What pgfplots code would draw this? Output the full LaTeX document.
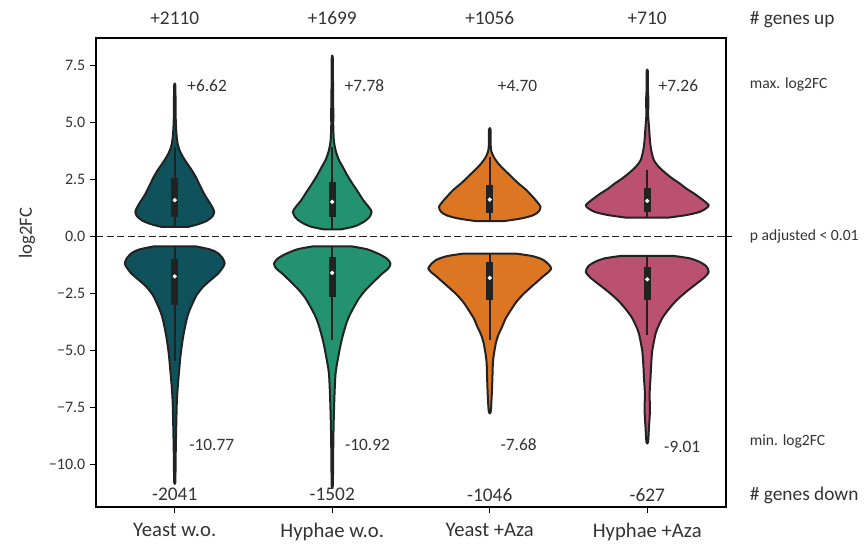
\documentclass[border=0pt]{standalone}
\usepackage{pgfplots}
\pgfplotsset{compat=1.18}
\usepackage{pgfplotstable}
\usepackage{fontspec}
\setmainfont{Carlito}

\definecolor{cYW}{HTML}{0F525C}
\definecolor{cHW}{HTML}{23936F}
\definecolor{cYA}{HTML}{DC7623}
\definecolor{cHA}{HTML}{BA5170}
\definecolor{edge}{HTML}{222222}
\definecolor{txt}{HTML}{333333}

% violin outlines: log2FC value (y) and signed half width (w, in category units),
% right side first, then back along the left side
\pgfplotstableread{
y w
0.43 0.085
0.55 0.150
0.70 0.205
0.90 0.240
1.10 0.250
1.40 0.230
1.80 0.193
2.20 0.163
2.60 0.135
2.90 0.110
3.20 0.080
3.50 0.052
3.80 0.030
4.10 0.018
4.50 0.011
5.00 0.007
5.60 0.005
6.62 0.004
6.62 -0.004
5.60 -0.005
5.00 -0.007
4.50 -0.011
4.10 -0.018
3.80 -0.030
3.50 -0.052
3.20 -0.080
2.90 -0.110
2.60 -0.135
2.20 -0.163
1.80 -0.193
1.40 -0.230
1.10 -0.250
0.90 -0.240
0.70 -0.205
0.55 -0.150
0.43 -0.085
}\yeastUp
\pgfplotstableread{
y w
-0.42 0.130
-0.55 0.220
-0.70 0.270
-0.95 0.305
-1.18 0.317
-1.40 0.300
-1.62 0.275
-1.90 0.228
-2.20 0.180
-2.55 0.140
-2.94 0.112
-3.30 0.090
-3.67 0.074
-4.40 0.053
-5.13 0.038
-5.87 0.028
-6.60 0.019
-7.30 0.013
-8.80 0.008
-10.00 0.005
-10.77 0.004
-10.77 -0.004
-10.00 -0.005
-8.80 -0.008
-7.30 -0.013
-6.60 -0.019
-5.87 -0.028
-5.13 -0.038
-4.40 -0.053
-3.67 -0.074
-3.30 -0.090
-2.94 -0.112
-2.55 -0.140
-2.20 -0.180
-1.90 -0.228
-1.62 -0.275
-1.40 -0.300
-1.18 -0.317
-0.95 -0.305
-0.70 -0.270
-0.55 -0.220
-0.42 -0.130
}\yeastDown
\pgfplotstableread{
y w
0.32 0.053
0.45 0.140
0.65 0.200
0.85 0.235
1.09 0.250
1.30 0.232
1.60 0.197
2.00 0.160
2.34 0.127
2.70 0.095
3.07 0.066
3.40 0.040
3.80 0.021
4.24 0.010
5.00 0.006
5.30 0.008
6.00 0.005
7.78 0.004
7.78 -0.004
6.00 -0.005
5.30 -0.008
5.00 -0.006
4.24 -0.010
3.80 -0.021
3.40 -0.040
3.07 -0.066
2.70 -0.095
2.34 -0.127
2.00 -0.160
1.60 -0.197
1.30 -0.232
1.09 -0.250
0.85 -0.235
0.65 -0.200
0.45 -0.140
0.32 -0.053
}\hyphaeUp
\pgfplotstableread{
y w
-0.42 0.120
-0.55 0.220
-0.74 0.290
-0.95 0.345
-1.18 0.370
-1.40 0.355
-1.62 0.317
-2.00 0.260
-2.35 0.210
-2.70 0.170
-3.08 0.138
-3.45 0.110
-3.81 0.089
-4.55 0.059
-5.28 0.038
-6.01 0.021
-7.18 0.013
-8.50 0.008
-10.00 0.005
-10.92 0.004
-10.92 -0.004
-10.00 -0.005
-8.50 -0.008
-7.18 -0.013
-6.01 -0.021
-5.28 -0.038
-4.55 -0.059
-3.81 -0.089
-3.45 -0.110
-3.08 -0.138
-2.70 -0.170
-2.35 -0.210
-2.00 -0.260
-1.62 -0.317
-1.40 -0.355
-1.18 -0.370
-0.95 -0.345
-0.74 -0.290
-0.55 -0.220
-0.42 -0.120
}\hyphaeDown
\pgfplotstableread{
y w
0.68 0.085
0.80 0.200
0.94 0.275
1.10 0.310
1.31 0.322
1.60 0.292
2.04 0.233
2.35 0.180
2.63 0.138
2.95 0.090
3.22 0.053
3.50 0.025
3.73 0.011
4.00 0.006
4.70 0.005
4.70 -0.005
4.00 -0.006
3.73 -0.011
3.50 -0.025
3.22 -0.053
2.95 -0.090
2.63 -0.138
2.35 -0.180
2.04 -0.233
1.60 -0.292
1.31 -0.322
1.10 -0.310
0.94 -0.275
0.80 -0.200
0.68 -0.085
}\yeastAzaUp
\pgfplotstableread{
y w
-0.74 0.165
-0.85 0.270
-1.03 0.343
-1.40 0.390
-1.77 0.334
-2.10 0.280
-2.50 0.216
-2.85 0.170
-3.23 0.133
-3.60 0.100
-3.96 0.078
-4.30 0.055
-4.69 0.038
-5.43 0.021
-6.16 0.017
-6.90 0.013
-7.68 0.006
-7.68 -0.006
-6.90 -0.013
-6.16 -0.017
-5.43 -0.021
-4.69 -0.038
-4.30 -0.055
-3.96 -0.078
-3.60 -0.100
-3.23 -0.133
-2.85 -0.170
-2.50 -0.216
-2.10 -0.280
-1.77 -0.334
-1.40 -0.390
-1.03 -0.343
-0.85 -0.270
-0.74 -0.165
}\yeastAzaDown
\pgfplotstableread{
y w
0.84 0.138
0.95 0.250
1.09 0.334
1.25 0.375
1.38 0.390
1.60 0.355
1.90 0.296
2.10 0.250
2.34 0.205
2.55 0.160
2.78 0.118
3.05 0.075
3.36 0.042
3.80 0.025
4.24 0.017
4.83 0.011
5.30 0.006
6.00 0.007
6.50 0.004
7.26 0.004
7.26 -0.004
6.50 -0.004
6.00 -0.007
5.30 -0.006
4.83 -0.011
4.24 -0.017
3.80 -0.025
3.36 -0.042
3.05 -0.075
2.78 -0.118
2.55 -0.160
2.34 -0.205
2.10 -0.250
1.90 -0.296
1.60 -0.355
1.38 -0.390
1.25 -0.375
1.09 -0.334
0.95 -0.250
0.84 -0.138
}\hyphaeAzaUp
\pgfplotstableread{
y w
-0.84 0.165
-0.95 0.270
-1.11 0.334
-1.30 0.375
-1.55 0.390
-1.80 0.360
-2.06 0.313
-2.40 0.250
-2.79 0.186
-3.15 0.140
-3.52 0.100
-3.90 0.072
-4.25 0.053
-4.99 0.032
-5.60 0.025
-6.16 0.021
-6.89 0.015
-7.62 0.017
-8.36 0.011
-9.01 0.005
-9.01 -0.005
-8.36 -0.011
-7.62 -0.017
-6.89 -0.015
-6.16 -0.021
-5.60 -0.025
-4.99 -0.032
-4.25 -0.053
-3.90 -0.072
-3.52 -0.100
-3.15 -0.140
-2.79 -0.186
-2.40 -0.250
-2.06 -0.313
-1.80 -0.360
-1.55 -0.390
-1.30 -0.375
-1.11 -0.334
-0.95 -0.270
-0.84 -0.165
}\hyphaeAzaDown

% #1 centre, #2 outline table, #3 fill colour
\newcommand{\violin}[3]{%
  \addplot[fill=#3, draw=edge, line width=1.5pt, line join=round, smooth, tension=0.45]
    table[x expr={#1+\thisrow{w}}, y=y]{#2} -- cycle;
}
% #1 centre, #2/#3 whisker ends, #4/#5 quartiles, #6 median
\newcommand{\inner}[6]{%
  \addplot[edge, line width=1.5pt] coordinates {(#1,#2) (#1,#3)};
  \addplot[edge, line width=5.5pt] coordinates {(#1,#4) (#1,#5)};
  \addplot[only marks, mark=*, mark size=1.4pt, mark options={draw=white, fill=white}] coordinates {(#1,#6)};
}

\begin{document}
\begin{tikzpicture}
\begin{axis}[
  name=ax,
  width=472.5pt, height=351.75pt, scale only axis,
  xmin=-0.5, xmax=3.5, ymin=-11.855, ymax=8.715,
  xtick={0,1,2,3},
  xticklabels={Yeast w.o., Hyphae w.o., Yeast +Aza, Hyphae +Aza},
  ytick={-10,-7.5,-5,-2.5,0,2.5,5,7.5},
  yticklabels={−10.0,−7.5,−5.0,−2.5,0.0,2.5,5.0,7.5},
  xtick pos=bottom, ytick pos=left, tick align=outside,
  major tick length=4.5pt,
  every tick/.style={black, line width=0.9pt},
  axis line style={line width=0.9pt},
  clip=false,
  xticklabel style={font=\fontsize{15.5}{18}\selectfont, text=txt, yshift=-4pt},
  yticklabel style={font=\fontsize{12}{14}\selectfont, text=txt},
]
\violin{0}{\yeastUp}{cYW}
\violin{0}{\yeastDown}{cYW}
\violin{1}{\hyphaeUp}{cHW}
\violin{1}{\hyphaeDown}{cHW}
\violin{2}{\yeastAzaUp}{cYA}
\violin{2}{\yeastAzaDown}{cYA}
\violin{3}{\hyphaeAzaUp}{cHA}
\violin{3}{\hyphaeAzaDown}{cHA}

\inner{0}{0.43}{3.95}{0.87}{2.56}{1.60}
\inner{0}{-0.42}{-5.43}{-0.96}{-3.01}{-1.74}
\inner{1}{0.32}{3.95}{0.87}{2.41}{1.53}
\inner{1}{-0.42}{-4.55}{-0.91}{-2.64}{-1.59}
\inner{2}{0.68}{3.51}{1.05}{2.26}{1.63}
\inner{2}{-0.74}{-4.55}{-1.13}{-2.79}{-1.81}
\inner{3}{0.84}{2.92}{1.09}{2.12}{1.57}
\inner{3}{-0.84}{-4.33}{-1.33}{-2.76}{-1.87}

% significance threshold line
\addplot[edge, line width=1.1pt, dash pattern=on 5.5pt off 2.4pt] coordinates {(-0.5,0) (3.5,0)};
\draw[line width=0.9pt] (axis cs:3.5,0) -- ([xshift=4.5pt]axis cs:3.5,0);

% counts of up / down regulated genes
\begin{scope}[every node/.style={font=\fontsize{14.5}{17}\selectfont, text=txt}]
\node at (axis cs:0,9.59) {+2110};
\node at (axis cs:1,9.59) {+1699};
\node at (axis cs:2,9.59) {+1056};
\node at (axis cs:3,9.59) {+710};
\node at (axis cs:0,-11.31) {-2041};
\node at (axis cs:1,-11.31) {-1502};
\node at (axis cs:2,-11.31) {-1046};
\node at (axis cs:3,-11.31) {-627};
\node[anchor=west, inner sep=0pt] at (axis cs:3.65,9.51) {\# genes up};
\node[anchor=west, inner sep=0pt] at (axis cs:3.65,-11.36) {\# genes down};
\end{scope}

% extreme values
\begin{scope}[every node/.style={font=\fontsize{13}{15}\selectfont, text=txt, anchor=west, inner sep=0pt}]
\node at (axis cs:0.079,6.61) {+6.62};
\node at (axis cs:1.078,6.61) {+7.78};
\node at (axis cs:2.050,6.61) {+4.70};
\node at (axis cs:3.071,6.61) {+7.26};
\node at (axis cs:0.091,-9.13) {-10.77};
\node at (axis cs:1.080,-9.13) {-10.92};
\node at (axis cs:2.067,-9.13) {-7.68};
\node at (axis cs:3.106,-9.20) {-9.01};
\end{scope}

\begin{scope}[every node/.style={font=\fontsize{11.7}{14}\selectfont, text=txt, anchor=west, inner sep=0pt}]
\node at (axis cs:3.65,6.66) {max. log2FC};
\node at (axis cs:3.65,0) {p adjusted < 0.01};
\node at (axis cs:3.65,-8.97) {min. log2FC};
\end{scope}

\node[rotate=90, font=\fontsize{14}{16}\selectfont, text=txt] at ([xshift=-51.75pt]axis cs:-0.5,0.15) {log2FC};
\end{axis}
\pgfresetboundingbox
\path[use as bounding box] ([shift={(-72pt,-30pt)}]ax.south west) rectangle ([shift={(105pt,28.5pt)}]ax.north east);
\end{tikzpicture}
\end{document}
